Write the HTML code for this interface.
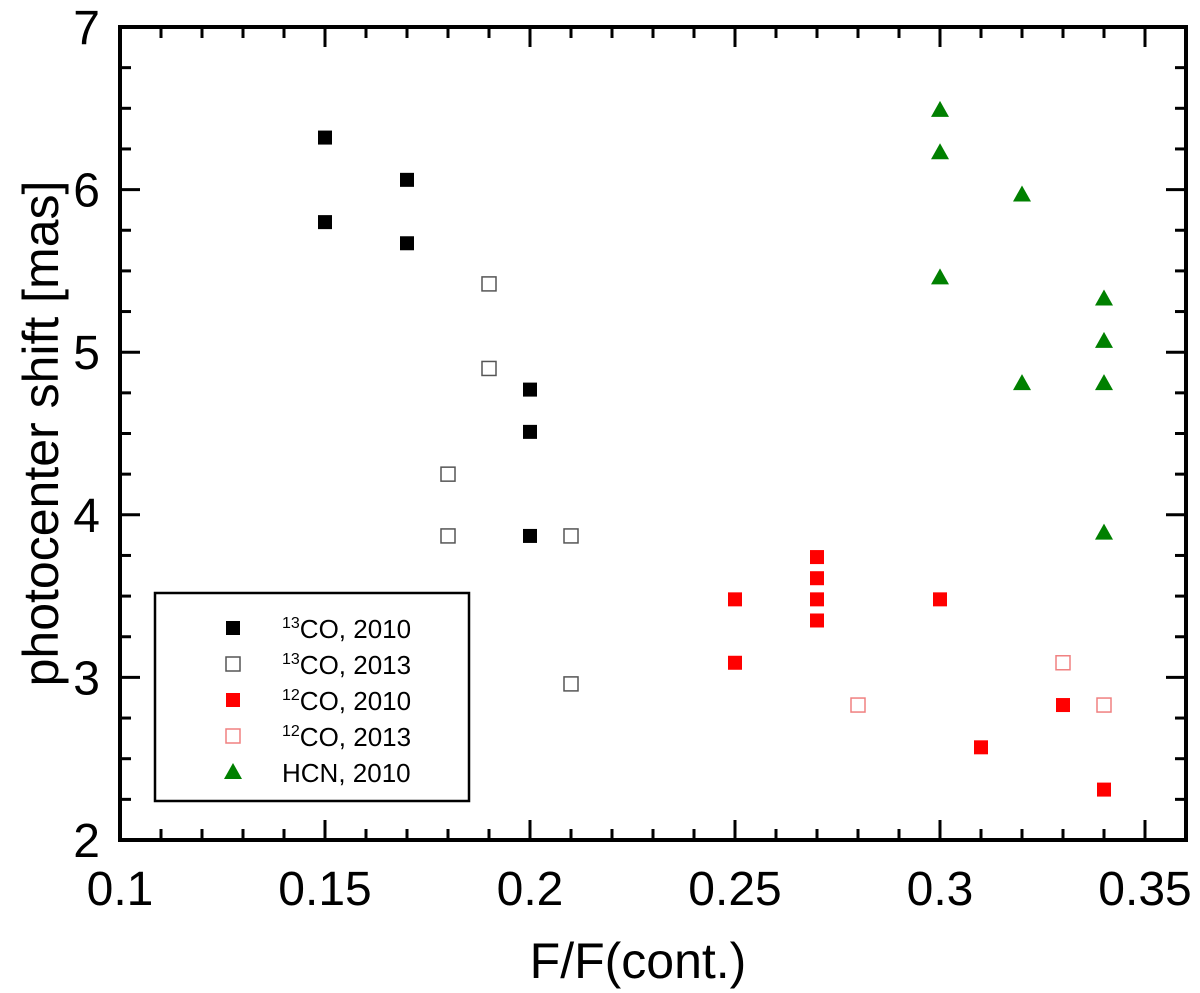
<!DOCTYPE html>
<html><head><meta charset="utf-8"><style>
html,body{margin:0;padding:0;background:#fff;}
svg{display:block;font-family:"Liberation Sans",sans-serif;}
</style></head><body>
<svg id="chart" width="1200" height="993"></svg>
<script>
const xTicks=[0.1,0.15,0.2,0.25,0.3,0.35];
const xTickLabels=["0.1","0.15","0.2","0.25","0.3","0.35"];
const yTicks=[2,3,4,5,6,7];
const yTickLabels=["2","3","4","5","6","7"];
const co13_2010_x=[0.15,0.15,0.17,0.17,0.2,0.2,0.2];
const co13_2010_y=[6.32,5.8,6.06,5.67,4.77,4.51,3.87];
const co13_2013_x=[0.19,0.19,0.18,0.18,0.21,0.21];
const co13_2013_y=[5.42,4.9,4.25,3.87,3.87,2.96];
const co12_2010_x=[0.25,0.25,0.27,0.27,0.27,0.27,0.3,0.31,0.33,0.34];
const co12_2010_y=[3.48,3.09,3.74,3.61,3.48,3.35,3.48,2.57,2.83,2.31];
const co12_2013_x=[0.28,0.33,0.34];
const co12_2013_y=[2.83,3.09,2.83];
const hcn_x=[0.3,0.3,0.3,0.32,0.32,0.34,0.34,0.34,0.34];
const hcn_y=[6.49,6.23,5.46,5.97,4.81,5.33,5.07,4.81,3.89];

const svg=document.getElementById('chart');
const NS='http://www.w3.org/2000/svg';
const L=120,R=1186,T=27,B=840,X0=0.1,X1=0.36,Y0=2,Y1=7;
const sx=v=>L+(v-X0)/(X1-X0)*(R-L);
const sy=v=>B-(v-Y0)/(Y1-Y0)*(B-T);
function mk(tag,attrs,parent){const e=document.createElementNS(NS,tag);for(const k in attrs)e.setAttribute(k,attrs[k]);(parent||svg).appendChild(e);return e;}

const tg=mk('g',{stroke:'#000','stroke-width':3});


for(let i=0;i<=26;i++){const v=X0+i*0.01;const x=sx(v);const major=(i%5===0);const len=major?20:11;
 mk('line',{x1:x,y1:B,x2:x,y2:B-len},tg);mk('line',{x1:x,y1:T,x2:x,y2:T+len},tg);}
for(let i=0;i<=20;i++){const v=Y0+i*0.25;const y=sy(v);const major=(i%4===0);const len=major?20:11;
 mk('line',{x1:L,y1:y,x2:L+len,y2:y},tg);mk('line',{x1:R,y1:y,x2:R-len,y2:y},tg);}
const frame=mk('rect',{x:L,y:T,width:R-L,height:B-T,fill:'none',stroke:'#000','stroke-width':4});



xTicks.forEach((v,i)=>{const t=mk('text',{x:sx(v),y:B+65,'font-size':48,'text-anchor':'middle'});t.textContent=xTickLabels[i];
 
 });
yTicks.forEach((v,i)=>{const t=mk('text',{x:L-20,y:sy(v)+17,'font-size':48,'text-anchor':'end'});t.textContent=yTickLabels[i];
 
 });
const xt=mk('text',{x:(L+R)/2-15,y:978,'font-size':50,'text-anchor':'middle'});xt.textContent='F/F(cont.)';


const yt=mk('text',{x:0,y:0,'font-size':50,'text-anchor':'middle',transform:'translate(58,'+((T+B)/2)+') rotate(-90)'});yt.textContent='photocenter shift [mas]';



function sq(x,y,fill,stroke,parent){return mk('rect',{x:x-7,y:y-7,width:14,height:14,fill:fill,stroke:stroke,'stroke-width':stroke==='none'?0:1.5},parent);}
function tri(x,y,parent){return mk('polygon',{points:`${x},${y-9} ${x-9},${y+7} ${x+9},${y+7}`,fill:'#008000'},parent);}
function series(xs,ys,name,draw){const g=mk('g',{});
 xs.forEach((v,i)=>{const m=draw(sx(v),sy(ys[i]),g);});}
series(co13_2010_x,co13_2010_y,'13co-2010',(x,y,g)=>sq(x,y,'#000','none',g));
series(co13_2013_x,co13_2013_y,'13co-2013',(x,y,g)=>sq(x,y,'none','#555',g));
series(co12_2010_x,co12_2010_y,'12co-2010',(x,y,g)=>sq(x,y,'#f00','none',g));
series(co12_2013_x,co12_2013_y,'12co-2013',(x,y,g)=>sq(x,y,'none','#f08080',g));
series(hcn_x,hcn_y,'hcn-2010',(x,y,g)=>tri(x,y,g));

const lg=mk('g',{});
mk('rect',{x:155,y:593,width:314,height:208,fill:'#fff',stroke:'#000','stroke-width':2.5},lg);
const entries=[['13','CO, 2010',(x,y)=>sq(x,y,'#000','none',lg)],['13','CO, 2013',(x,y)=>sq(x,y,'none','#555',lg)],
 ['12','CO, 2010',(x,y)=>sq(x,y,'#f00','none',lg)],['12','CO, 2013',(x,y)=>sq(x,y,'none','#f08080',lg)],['','HCN, 2010',(x,y)=>tri(x,y,lg)]];
entries.forEach((e,i)=>{const y=628+i*36;e[2](233,y);
 const t=mk('text',{x:282,y:y+10,'font-size':26},lg);
 
 
 if(e[0]){const s=mk('tspan',{'font-size':16,dy:-10},t);s.textContent=e[0];const r=mk('tspan',{dy:10},t);r.textContent=e[1];}
 else t.textContent=e[1];});
</script>
</body></html>
